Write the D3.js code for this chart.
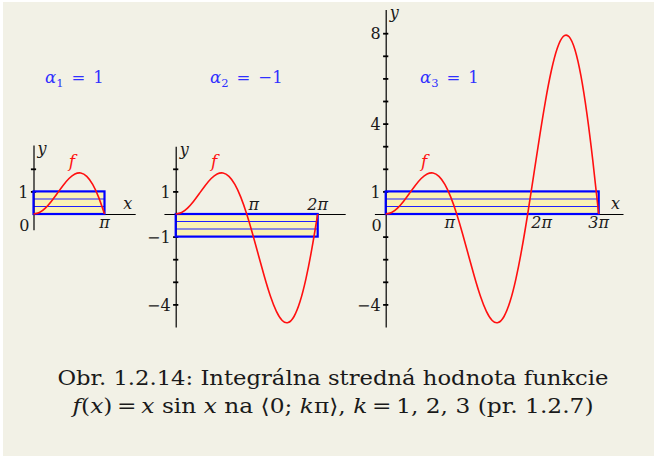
<!DOCTYPE html>
<html>
<head>
<meta charset="utf-8">
<script src="https://cdn.jsdelivr.net/npm/d3@7/dist/d3.min.js"></script>
<style>
  html, body { margin: 0; padding: 0; background: #ffffff; }
  svg { display: block; }
  text { font-family: "DejaVu Serif", "Liberation Serif", serif; }
</style>
</head>
<body>
<svg id="chart" width="657" height="458"></svg>
<script>
// f(x) = x sin x sampled at x = t·π (t in steps of 1/12)
const curveT = [0, 1/12, 2/12, 3/12, 4/12, 5/12, 6/12, 7/12, 8/12, 9/12, 10/12, 11/12, 1,
  13/12, 14/12, 15/12, 16/12, 17/12, 18/12, 19/12, 20/12, 21/12, 22/12, 23/12, 2,
  25/12, 26/12, 27/12, 28/12, 29/12, 30/12, 31/12, 32/12, 33/12, 34/12, 35/12, 3];
const curveF = [0, 0.0678, 0.2618, 0.5554, 0.9069, 1.2644, 1.5708, 1.7701, 1.8138, 1.6661, 1.3090, 0.7453, 0,
  -0.8809, -1.8326, -2.7768, -3.6276, -4.2989, -4.7124, -4.8047, -4.5345, -3.8876, -2.8798, -1.5585, 0,
  1.6940, 3.4034, 4.9983, 6.3483, 7.3335, 7.8540, 7.8393, 7.2553, 6.1090, 4.4506, 2.3715, 0];

// interval end kπ and mean value α_k for each panel
const kValues = [1, 2, 3];
const alphaValues = [1, -1, 1];
const alphaLabels = ["1", "−1", "1"];

// y tick values per panel and which of them carry a label
const yTicks = [[1, 2], [-4, -3, -2, -1, 1, 2], [-4, -3, -2, -1, 1, 2, 3, 4, 5, 6, 7, 8]];
const yTickLabels = [[1], [-4, -1, 1], [-4, 1, 4, 8]];

// x labels (multiples of π) per panel
const xLabelMult = [[1], [1, 2], [1, 2, 3]];
const xLabelText = { 1: "π", 2: "2π", 3: "3π" };

const svg = d3.select("#chart");
svg.append("rect").attr("x", 3).attr("y", 2).attr("width", 651).attr("height", 454).attr("fill", "#f2f1e6");

const unit = 22.6;
const originY = 214;
const layout = [
  { ox: 33.5,  xExt: [0, 4.5],     yExt: [-0.7, 3.05], alphaX: 45,  xLabelDx: [0], xLabelBelow: true,  showX: true,  showZero: true },
  { ox: 175.7, xExt: [-0.52, 7.5], yExt: [-5.0, 3.0],  alphaX: 210, xLabelDx: [7, 0], xLabelBelow: false, showX: false, showZero: false },
  { ox: 385.7, xExt: [-0.5, 10.5], yExt: [-5.0, 9.05], alphaX: 420, xLabelDx: [-7, 14, 0], xLabelBelow: true, showX: true, showZero: true }
];

const curveData = curveT.map((t, i) => ({ x: t * Math.PI, y: curveF[i] }));
const fmtNum = v => (v < 0 ? "−" + Math.abs(v) : String(v));
const ink = "#1a1a1a";

layout.forEach((L, p) => {
  const x = d3.scaleLinear().domain(L.xExt)
    .range([L.ox + L.xExt[0] * unit, L.ox + L.xExt[1] * unit]);
  const y = d3.scaleLinear().domain(L.yExt)
    .range([originY - L.yExt[0] * unit, originY - L.yExt[1] * unit]);
  const g = svg.append("g");
  const k = kValues[p];
  const a = alphaValues[p];

  // mean-value rectangle with hatch lines at thirds
  const rx0 = x(0), rx1 = x(k * Math.PI);
  const ry0 = y(Math.max(0, a)), ry1 = y(Math.min(0, a));
  g.append("rect").attr("x", rx0).attr("y", ry0).attr("width", rx1 - rx0).attr("height", ry1 - ry0)
    .attr("fill", "#fbf2b4").attr("stroke", "none");
  [1 / 3, 2 / 3].forEach(fr => {
    g.append("line").attr("x1", rx0).attr("x2", rx1)
      .attr("y1", y(a * fr)).attr("y2", y(a * fr))
      .attr("stroke", "#2020ff").attr("stroke-width", 1.1);
  });

  // x axis
  g.append("g").attr("transform", `translate(0,${originY})`)
    .call(d3.axisBottom(x).tickValues([]).tickSizeOuter(0))
    .call(s => s.select(".domain").attr("stroke", "#000").attr("stroke-width", 1));

  // y axis
  const yAxis = d3.axisLeft(y).tickValues(yTicks[p]).tickSize(2.5).tickSizeOuter(0)
    .tickFormat(v => (yTickLabels[p].includes(v) ? fmtNum(v) : ""));
  const ya = g.append("g").attr("transform", `translate(${L.ox},0)`).call(yAxis);
  ya.select(".domain").attr("stroke", "#000").attr("stroke-width", 1.2);
  ya.selectAll(".tick line").attr("x1", -2.6).attr("x2", 2.6).attr("stroke", "#000").attr("stroke-width", 1.8);
  ya.selectAll(".tick text").attr("x", -5).attr("font-size", 16)
    .attr("fill", ink).attr("dy", "0.36em");

  // rectangle outline
  g.append("rect").attr("x", rx0).attr("y", ry0).attr("width", rx1 - rx0).attr("height", ry1 - ry0)
    .attr("fill", "none").attr("stroke", "#0000ff").attr("stroke-width", 2.2);

  // curve
  const pts = curveData.filter(d => d.x <= k * Math.PI + 1e-9);
  g.append("path").datum(pts)
    .attr("d", d3.line().x(d => x(d.x)).y(d => y(d.y)).curve(d3.curveNatural))
    .attr("fill", "none").attr("stroke", "#ff1010").attr("stroke-width", 1.6);

  // axis names
  g.append("text").attr("x", L.ox + 4).attr("y", y(L.yExt[1]) + 9)
    .attr("font-size", 16).attr("font-style", "italic").attr("fill", ink).text("y");
  if (L.showX) {
    g.append("text").attr("x", x(L.xExt[1]) - 12).attr("y", originY - 5)
      .attr("font-size", 16).attr("font-style", "italic").attr("fill", ink).text("x");
  }
  if (L.showZero) {
    g.append("text").attr("x", L.ox - 4).attr("y", originY + 17)
      .attr("text-anchor", "end").attr("font-size", 16).attr("fill", ink).text("0");
  }

  // multiples of π on the x axis
  xLabelMult[p].forEach((m, i) => {
    g.append("text").attr("x", x(m * Math.PI) + L.xLabelDx[i])
      .attr("y", L.xLabelBelow ? originY + 14 : originY - 4)
      .attr("text-anchor", "middle").attr("font-size", 16).attr("font-style", "italic")
      .attr("fill", ink).text(xLabelText[m]);
  });

  // function name
  g.append("text").attr("x", x(1.7)).attr("y", y(2.1))
    .attr("text-anchor", "middle").attr("font-size", 17).attr("font-style", "italic")
    .attr("fill", "#ff1010").text("f");

  // mean value label
  const t = svg.append("text").attr("x", L.alphaX).attr("y", 83)
    .attr("font-size", 16.5).attr("fill", "#3030ff");
  t.append("tspan").attr("font-style", "italic").text("α");
  t.append("tspan").attr("font-size", 11.5).attr("dy", 3.5).text(String(p + 1));
  t.append("tspan").attr("dy", -3.5).attr("dx", 8).text("=");
  t.append("tspan").attr("dx", 8).text(alphaLabels[p]);
});

// caption
const cap = svg.append("g").attr("font-size", 20.5).attr("fill", ink);
cap.append("text").attr("x", 333).attr("y", 385).attr("text-anchor", "middle")
  .attr("textLength", 551).attr("lengthAdjust", "spacingAndGlyphs")
  .text("Obr. 1.2.14: Integrálna stredná hodnota funkcie");
const c2 = cap.append("text").attr("x", 333).attr("y", 413).attr("text-anchor", "middle")
  .attr("textLength", 521).attr("lengthAdjust", "spacingAndGlyphs");
[["f", true], ["(", false], ["x", true], [")\u2009=\u2009", false], ["x", true], [" sin ", false], ["x", true],
 [" na ⟨0; ", false], ["k", true], ["π⟩, ", false], ["k", true], ["\u2009=\u20091, 2, 3 (pr. 1.2.7)", false]]
  .forEach(([s, it]) => c2.append("tspan").attr("font-style", it ? "italic" : "normal").text(s));
</script>
</body>
</html>
